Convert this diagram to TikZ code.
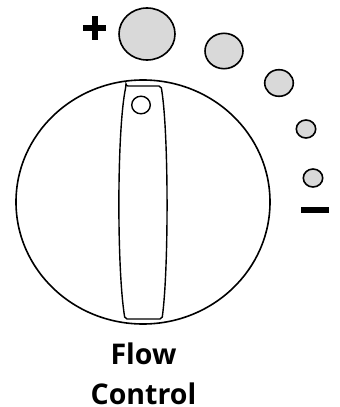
\documentclass[tikz,border=0pt]{standalone}
\usepackage{fontspec}
\setmainfont{Open Sans}
\definecolor{dotgray}{HTML}{D9D9D9}
\begin{document}
\begin{tikzpicture}[x=1pt,y=-1pt,
  outl/.style={draw=black,line width=1.6pt},
  dot/.style={outl,fill=dotgray},
  sign/.style={fill=black,draw=none},
  lbl/.style={font=\fontsize{28.5}{40}\selectfont\bfseries,align=center,inner sep=0pt}]
\useasboundingbox (0,0) rectangle (340,407);
% knob
\draw[outl] (143,202) ellipse [x radius=127,y radius=122];
% handle
\draw[outl,line width=1.4pt,rounded corners=2pt] (126,86) -- (161,86)
  .. controls (168.8,130) and (168.8,270) .. (162,319) -- (125,319)
  .. controls (116.8,270) and (116.8,130) .. (126,86) -- cycle;
\draw[outl,line width=1.4pt] (141,105) ellipse [x radius=9.3,y radius=8.8];
% gray dots
\draw[dot] (147,34) ellipse [x radius=28,y radius=26];
\draw[dot] (224,51) ellipse [x radius=19,y radius=17.7];
\draw[dot] (279,83) ellipse [x radius=14.3,y radius=13.3];
\draw[dot] (306,129) ellipse [x radius=9.7,y radius=9];
\draw[dot] (313,178) ellipse [x radius=9.7,y radius=9];
% plus and minus
\fill[sign] (83,25) rectangle (106,30.5);
\fill[sign] (92,16) rectangle (97.5,39.5);
\fill[sign] (301,207) rectangle (329,212.5);
% label
\node[lbl,anchor=base] (flow) at (143.5,364) {Flow};
\node[lbl,anchor=base] (control) at (143.5,404) {Control};
\end{tikzpicture}
\end{document}
